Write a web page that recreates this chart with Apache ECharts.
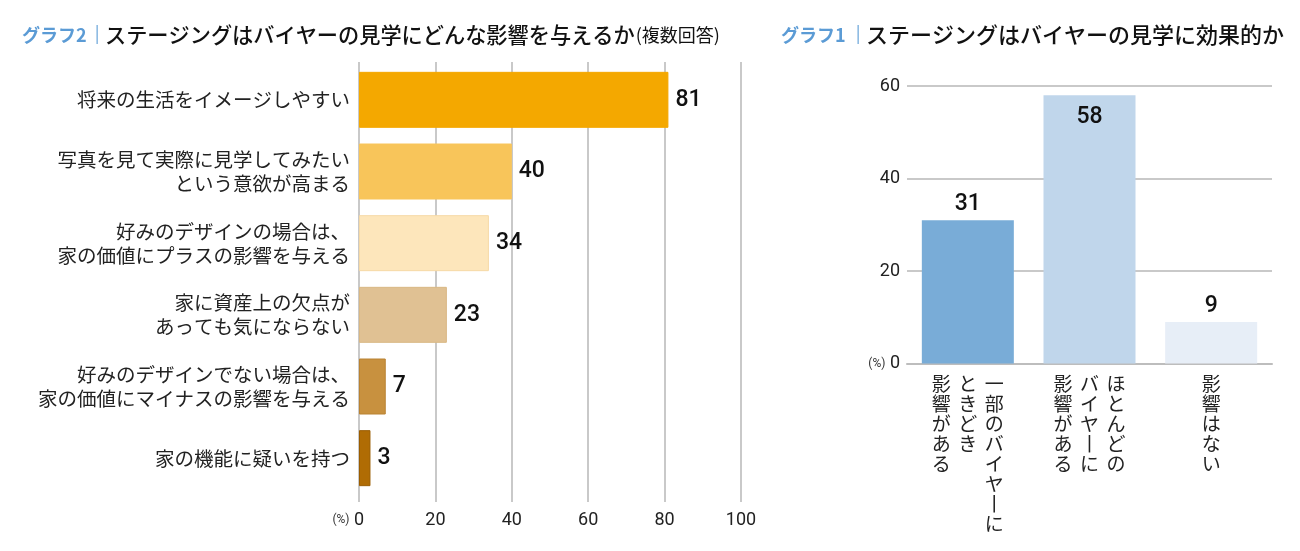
<!DOCTYPE html>
<html><head><meta charset="utf-8">
<script src="https://cdn.jsdelivr.net/npm/echarts@6/dist/echarts.min.js"></script>
<style>html,body{margin:0;padding:0;background:#fff}#c{width:1300px;height:551px}</style>
</head><body><div id="c"></div>
<script>
// ---- data ----
const leftTitleTag = 'グラフ2';
const leftTitleText = 'ステージングはバイヤーの見学にどんな影響を与えるか';
const leftTitleNote = '(複数回答)';
const leftCategories = [
  '将来の生活をイメージしやすい',
  '写真を見て実際に見学してみたい\nという意欲が高まる',
  '好みのデザインの場合は、\n家の価値にプラスの影響を与える',
  '家に資産上の欠点が\nあっても気にならない',
  '好みのデザインでない場合は、\n家の価値にマイナスの影響を与える',
  '家の機能に疑いを持つ'
];
const leftValues = [81, 40, 34, 23, 7, 3];
const leftTicks = [0, 20, 40, 60, 80, 100];

const rightTitleTag = 'グラフ1';
const rightTitleText = 'ステージングはバイヤーの見学に効果的か';
const rightCategories = ['一部のバイヤーに\nときどき\n影響がある', 'ほとんどの\nバイヤーに\n影響がある', '影響はない'];
const rightValues = [31, 58, 9];
const rightTicks = [0, 20, 40, 60];
const unitLabel = '(%)';

// ---- styles ----
const JP = '"Noto Sans CJK JP", "Noto Sans", sans-serif';
const NUM = 'Roboto, "Noto Sans", sans-serif';
const leftColors = ['#f4a800', '#f8c55a', '#fde6bb', '#e0c193', '#c8913f', '#b06c04'];
const leftBorders = ['#f4a800', '#f8c55a', '#f6d9a6', '#d9b885', '#b98232', '#9a5c00'];
const rightColors = ['#79acd7', '#c0d6eb', '#e7eef7'];
const rightLabelPos = ['top', 'insideTop', 'top'];
const gridLine = '#c9c9c9';

function verticalLabel(label) {
  const cols = label.split('\n').map(s => Array.from(s).map(ch => ch === 'ー' ? '丨' : ch)).reverse();
  const rows = Math.max.apply(null, cols.map(c => c.length));
  const lines = [];
  for (let r = 0; r < rows; r++) {
    lines.push(cols.map(c => '{c|' + (c[r] || '\u3000') + '}').join(''));
  }
  return lines.join('\n');
}

const chart = echarts.init(document.getElementById('c'));
const option = {
  backgroundColor: '#fff',
  animation: false,
  title: [
    {
      left: 17, top: 19,
      text: '{a|' + leftTitleTag + '}{s||}{b|' + leftTitleText + '}{c|' + leftTitleNote + '}',
      textStyle: {
        fontWeight: 'normal',
        rich: {
          a: { color: '#5b9bd5', fontSize: 18, fontWeight: 'bold', fontFamily: JP },
          s: { color: '#8fbbe3', fontSize: 22, fontWeight: 'normal', fontFamily: NUM, padding: [0, 5, 0, 8] },
          b: { color: '#111', fontSize: 21.2, fontWeight: 500, fontFamily: JP },
          c: { color: '#111', fontSize: 18, fontWeight: 'normal', fontFamily: JP, padding: [0, 0, 0, 1] }
        }
      }
    },
    {
      left: 776, top: 19,
      text: '{a|' + rightTitleTag + '}{s||}{b|' + rightTitleText + '}',
      textStyle: {
        fontWeight: 'normal',
        rich: {
          a: { color: '#5b9bd5', fontSize: 18, fontWeight: 'bold', fontFamily: JP },
          s: { color: '#8fbbe3', fontSize: 22, fontWeight: 'normal', fontFamily: NUM, padding: [0, 5, 0, 10] },
          b: { color: '#111', fontSize: 22, fontWeight: 500, fontFamily: JP }
        }
      }
    }
  ],
  grid: [
    { left: 359, right: 1300 - 741, top: 64, bottom: 551 - 494 },
    { left: 359, right: 1300 - 741, top: 62, bottom: 551 - 502 },
    { left: 907, right: 1300 - 1272, top: 86, bottom: 551 - 363.5 }
  ],
  xAxis: [
    { gridIndex: 0, type: 'value', min: 0, max: 100, interval: 20, show: false },
    {
      gridIndex: 1, type: 'value', min: leftTicks[0], max: leftTicks[leftTicks.length - 1], interval: leftTicks[1] - leftTicks[0],
      axisLine: { show: false }, axisTick: { show: false },
      splitLine: { show: true, lineStyle: { color: gridLine, width: 2 } },
      axisLabel: {
        margin: 9, fontSize: 18, color: '#222', fontFamily: NUM,
        formatter: v => v === 0 ? '{p|' + unitLabel + '}{v|0}{q|}' : String(v),
        rich: {
          p: { fontSize: 12, color: '#333', fontFamily: NUM, width: 26, align: 'center' },
          v: { fontSize: 18, color: '#222', fontFamily: NUM },
          q: { width: 26 }
        }
      }
    },
    {
      gridIndex: 2, type: 'category', data: rightCategories,
      axisLine: { show: true, lineStyle: { color: '#bdbdbd', width: 2 } },
      axisTick: { show: false },
      axisLabel: {
        interval: 0, margin: 10, formatter: verticalLabel,
        rich: { c: { width: 26.5, align: 'center', fontSize: 19, lineHeight: 20, color: '#222', fontFamily: JP } }
      }
    }
  ],
  yAxis: [
    {
      gridIndex: 0, type: 'category', inverse: true, data: leftCategories,
      axisLine: { show: false }, axisTick: { show: false },
      axisLabel: { margin: 9, fontSize: 19.5, lineHeight: 24, color: '#222', fontFamily: JP, align: 'right' }
    },
    { gridIndex: 1, type: 'value', show: false },
    {
      gridIndex: 2, type: 'value', min: rightTicks[0], max: rightTicks[rightTicks.length - 1], interval: rightTicks[1] - rightTicks[0],
      axisLine: { show: false }, axisTick: { show: false },
      splitLine: { show: true, lineStyle: { color: gridLine, width: 2 } },
      axisLabel: {
        margin: 7, fontSize: 18, color: '#222', fontFamily: NUM,
        formatter: v => v === 0 ? '{p|' + unitLabel + '} 0' : String(v),
        rich: { p: { fontSize: 12, color: '#333', fontFamily: NUM } }
      }
    }
  ],
  series: [
    {
      type: 'bar', xAxisIndex: 0, yAxisIndex: 0, barWidth: 56,
      data: leftValues.map((v, i) => ({ value: v, itemStyle: { color: leftColors[i], borderColor: leftBorders[i], borderWidth: 1 } })),
      label: { show: true, position: 'right', distance: 7, fontSize: 23, fontWeight: 500, color: '#111', fontFamily: NUM }
    },
    {
      type: 'bar', xAxisIndex: 2, yAxisIndex: 2, barWidth: 92,
      data: rightValues.map((v, i) => ({ value: v, itemStyle: { color: rightColors[i] }, label: { position: rightLabelPos[i], distance: rightLabelPos[i] === 'top' ? 4 : 10 } })),
      label: { show: true, fontSize: 23, fontWeight: 500, color: '#111', fontFamily: NUM }
    }
  ]
};
chart.setOption(option);
</script>
</body></html>
